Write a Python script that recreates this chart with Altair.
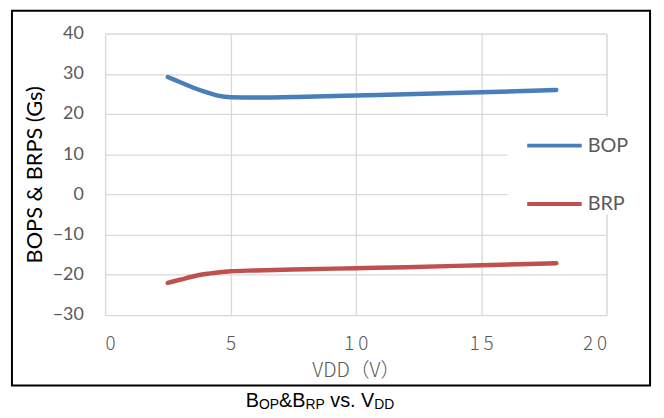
import altair as alt
import pandas as pd

# ---- data ----
vdd = [2.5, 3, 3.5, 4, 4.5, 5, 6, 8, 10, 12, 15, 18]
bop = [29.2, 27.9, 26.6, 25.5, 24.6, 24.2, 24.1, 24.3, 24.6, 24.9, 25.4, 26.0]
brp = [-22.0, -21.2, -20.4, -19.8, -19.4, -19.1, -18.9, -18.6, -18.35, -18.1, -17.6, -17.1]
series_names = ["BOP", "BRP"]
series_colors = ["#4A7EBB", "#C0504D"]
x_ticks = [0, 5, 10, 15, 20]
y_ticks = [-30, -20, -10, 0, 10, 20, 30, 40]
x_title = "VDD（V）"
y_title = "BOPS & BRPS (Gs)"
caption_parts = ["B", "OP", "&B", "RP", "vs. V", "DD"]

df = pd.DataFrame({
    "VDD": vdd + vdd,
    "value": bop + brp,
    "series": [series_names[0]] * len(vdd) + [series_names[1]] * len(vdd),
})

W, H = 506, 284

lines = alt.Chart(df).mark_line(
    strokeWidth=4.5, strokeCap="round", strokeJoin="round", interpolate="monotone"
).encode(
    x=alt.X("VDD:Q", scale=alt.Scale(domain=[0, 20], nice=False, zero=False),
            axis=alt.Axis(values=x_ticks, title=x_title, ticks=False, domain=False,
                          labelFont="Noto Sans CJK SC", labelFontSize=19, labelFontWeight=300,
                          labelColor="#595959", labelPadding=20,
                          labelExpr="join(split(datum.label, ''), '\u2009')",
                          titleFont="Noto Sans CJK SC", titleFontSize=20, titleFontWeight=300,
                          titleColor="#595959", titleY=62, titleBaseline="alphabetic",
                          gridColor="#D9D9D9", gridWidth=1.3)),
    y=alt.Y("value:Q", scale=alt.Scale(domain=[-30, 40], nice=False),
            axis=alt.Axis(values=y_ticks, title=y_title, ticks=False, domain=False,
                          labelFont="Lato", labelFontSize=18, labelColor="#595959",
                          labelPadding=22,
                          titleFont="Lato", titleFontSize=22, titleFontWeight="normal",
                          titleColor="#000000", titleX=-71, titleY=142, titleAngle=270,
                          titleAlign="center", titleBaseline="middle",
                          gridColor="#D9D9D9", gridWidth=1.3)),
    color=alt.Color("series:N", scale=alt.Scale(domain=series_names, range=series_colors),
                    legend=alt.Legend(title=None, orient="none", legendX=406, legendY=83.5,
                                      fillColor="white", padding=0, symbolType="stroke",
                                      symbolSize=3025, symbolStrokeWidth=4, symbolOffset=18,
                                      labelOffset=4, labelFont="Lato", labelFontSize=20,
                                      labelColor="#595959", rowPadding=19, direction="vertical")),
)

one = alt.Data(values=[{}])

border = alt.Chart(one).mark_rect(
    fillOpacity=0, stroke="black", strokeWidth=2
).encode(x=alt.value(-94), x2=alt.value(550), y=alt.value(-23), y2=alt.value(355))

# caption with subscripts: advance widths of Arial-metric Liberation Sans (per em)
adv = {"B": .667, "O": .778, "P": .667, "&": .667, "R": .722, "v": .5, "s": .5,
       ".": .278, " ": .278, "V": .667, "D": .722}
main_fs, sub_fs = 20, 14
cap_sizes = [main_fs, sub_fs, main_fs, sub_fs, main_fs, sub_fs]
cap_gap_before = [0, 0, 0, 0, adv[" "] * main_fs, 0]
caption = []
cx = 142.0
for part, fs, gap in zip(caption_parts, cap_sizes, cap_gap_before):
    cx += gap
    py = 377 if fs == main_fs else 379
    caption.append(
        alt.Chart(one).mark_text(text=part, align="left", baseline="alphabetic",
                                 font="Liberation Sans", fontSize=fs, color="#000000")
        .encode(x=alt.value(cx), y=alt.value(py))
    )
    cx += sum(adv[c] for c in part) * fs

chart = alt.layer(lines, border, *caption).properties(
    width=W, height=H,
    autosize=alt.AutoSizeParams(type="none"),
    padding={"left": 98, "top": 24, "right": 50, "bottom": 100},
).configure_view(stroke="transparent").configure(background="white")

chart.save("out.html", embed_options={"renderer": "svg", "actions": False})
